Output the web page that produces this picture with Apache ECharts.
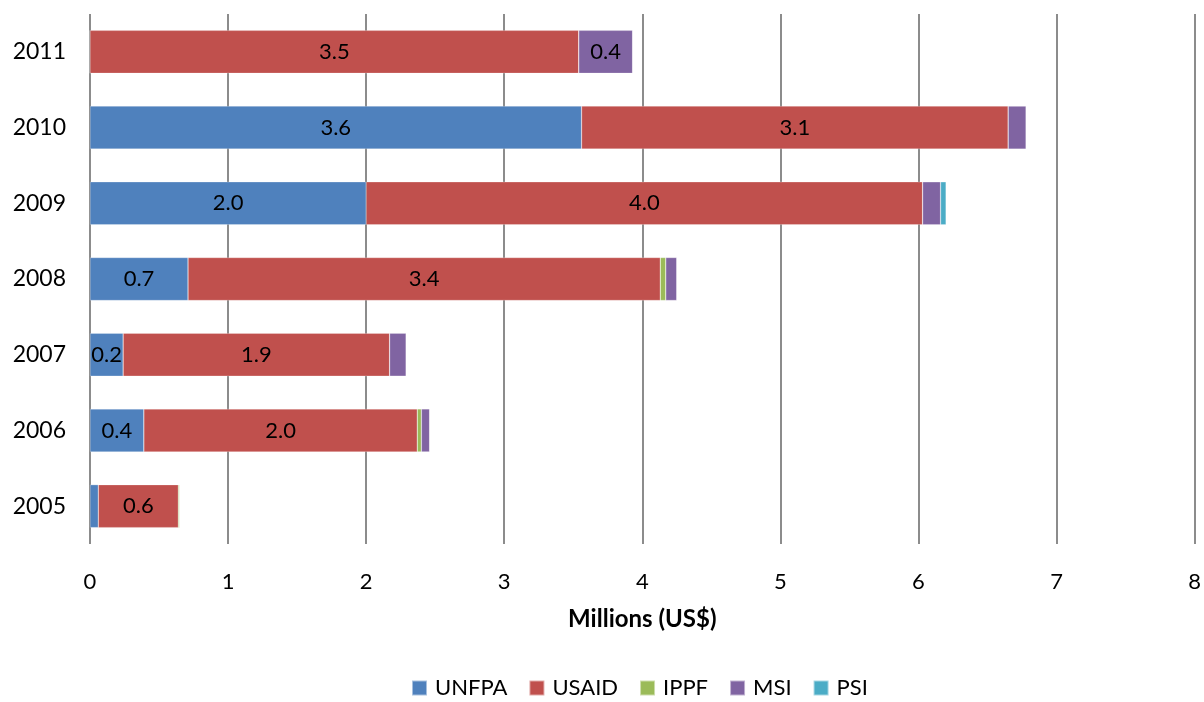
<!DOCTYPE html>
<html>
<head>
<meta charset="utf-8">
<script src="https://cdn.jsdelivr.net/npm/echarts@6/dist/echarts.min.js"></script>
<style>
  html, body { margin: 0; padding: 0; background: #fff; }
  #chart { width: 1204px; height: 702px; }
</style>
</head>
<body>
<div id="chart"></div>
<script>
// Funding for contraceptive supplies by donor, millions of US$
const years = ['2005', '2006', '2007', '2008', '2009', '2010', '2011'];
const unfpa = [0.06, 0.39, 0.24, 0.71, 2.00, 3.56, 0];
const usaid = [0.58, 1.98, 1.93, 3.42, 4.03, 3.09, 3.54];
const ippf  = [0.01, 0.03, 0, 0.04, 0, 0, 0];
const msi   = [0, 0.06, 0.12, 0.08, 0.13, 0.13, 0.39];
const psi   = [0, 0, 0, 0, 0.04, 0, 0];
const xTicks = [0, 1, 2, 3, 4, 5, 6, 7, 8];

const FONT = 'Lato, "Open Sans", sans-serif';
const colors = {
  UNFPA: '#4f81bd',
  USAID: '#c0504d',
  IPPF: '#9bbb59',
  MSI: '#8064a2',
  PSI: '#4bacc6'
};

// Only segments wide enough to hold text get a value label
const segLabel = {
  show: true,
  position: 'inside',
  color: '#000',
  fontFamily: FONT,
  fontSize: 22,
  formatter: p => (p.value >= 0.2 ? p.value.toFixed(1) : '')
};

function makeSeries(name, data) {
  return {
    name: name,
    type: 'bar',
    stack: 'total',
    data: data,
    barWidth: 43,
    itemStyle: { color: colors[name], borderColor: 'rgba(255,255,255,0.5)', borderWidth: 0.5 },
    label: segLabel,
    emphasis: { disabled: true }
  };
}

const chart = echarts.init(document.getElementById('chart'), null, { renderer: 'canvas' });
chart.setOption({
  animation: false,
  textStyle: { fontFamily: FONT },
  grid: { left: 90, right: 8, top: 14, bottom: 158, containLabel: false },
  legend: {
    bottom: -2,
    left: 406,
    itemWidth: 15,
    itemHeight: 15,
    itemGap: 21,
    icon: 'rect',
    textStyle: { fontFamily: FONT, fontSize: 22, color: '#000', padding: [0, 0, 0, 3] },
    data: ['UNFPA', 'USAID', 'IPPF', 'MSI', 'PSI']
  },
  xAxis: {
    type: 'value',
    min: xTicks[0],
    max: xTicks[xTicks.length - 1],
    interval: 1,
    name: 'Millions (US$)',
    nameLocation: 'middle',
    nameGap: 63,
    nameTextStyle: { fontFamily: FONT, fontSize: 24, fontWeight: 'bold', color: '#000' },
    axisLine: { show: false },
    axisTick: { show: false },
    axisLabel: { fontFamily: FONT, fontSize: 22, color: '#000', margin: 27 },
    splitLine: { show: true, lineStyle: { color: '#8c8c8c', width: 2 } }
  },
  yAxis: {
    type: 'category',
    data: years,
    axisLine: { show: false },
    axisTick: { show: false },
    axisLabel: { fontFamily: FONT, fontSize: 23, color: '#000', margin: 24 }
  },
  series: [
    makeSeries('UNFPA', unfpa),
    makeSeries('USAID', usaid),
    makeSeries('IPPF', ippf),
    makeSeries('MSI', msi),
    makeSeries('PSI', psi)
  ]
});
</script>
</body>
</html>
